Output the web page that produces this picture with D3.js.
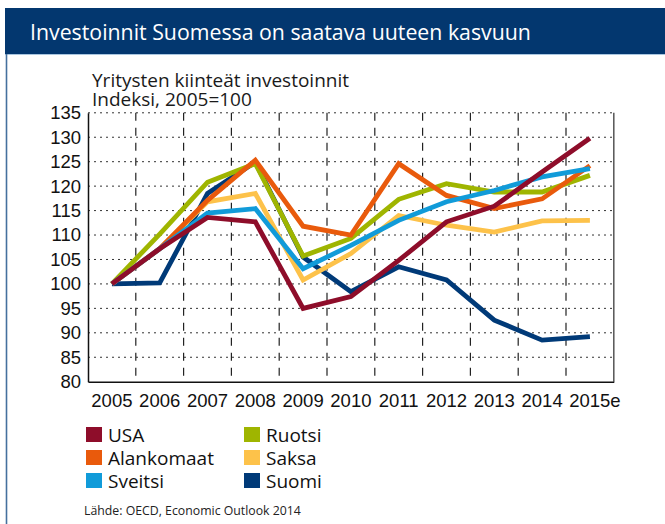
<!DOCTYPE html>
<html>
<head>
<meta charset="utf-8">
<script src="https://cdn.jsdelivr.net/npm/d3@7"></script>
<style>
	body { margin: 0; background: #fff; }
	svg { display: block; font-family: 'Open Sans', sans-serif; }
</style>
</head>
<body>
<svg id="chart" width="665" height="524"></svg>
<script>
const years = ['2005', '2006', '2007', '2008', '2009', '2010', '2011', '2012', '2013', '2014', '2015e']
const yTicks = [80, 85, 90, 95, 100, 105, 110, 115, 120, 125, 130, 135]

const usa = [100, 107.2, 113.6, 112.7, 95, 97.4, 104.8, 112.7, 115.9, 122.9, 129.8]
const alankomaat = [100, 107.2, 117.1, 125.3, 111.8, 110, 124.6, 118.1, 115.4, 117.4, 124.2]
const sveitsi = [100, 107.2, 114.5, 115.4, 103.1, 107.9, 113, 116.8, 119.1, 121.9, 123.6]
const ruotsi = [100, 110.2, 120.8, 124.6, 105.7, 109.3, 117.3, 120.5, 118.8, 118.8, 122.2]
const saksa = [100, 107.2, 116.8, 118.5, 100.8, 106.2, 114, 112, 110.6, 112.9, 113]
const suomi = [100, 100.2, 118.5, 124.9, 105.5, 98.4, 103.5, 100.8, 92.6, 88.5, 89.2]

const series = [
	{ name: 'USA', color: '#8e0d2a', values: usa },
	{ name: 'Alankomaat', color: '#e95a0c', values: alankomaat },
	{ name: 'Sveitsi', color: '#119bd9', values: sveitsi },
	{ name: 'Ruotsi', color: '#9fb500', values: ruotsi },
	{ name: 'Saksa', color: '#fdc24a', values: saksa },
	{ name: 'Suomi', color: '#003a78', values: suomi }
]
// draw order, bottom to top
const drawOrder = ['Suomi', 'Saksa', 'Ruotsi', 'Alankomaat', 'Sveitsi', 'USA']

const svg = d3.select('#chart')

// header bar
svg.append('rect')
	.attr('x', 5).attr('y', 8)
	.attr('width', 660).attr('height', 46)
	.attr('fill', '#03376f')
svg.append('line')
	.attr('x1', 5).attr('x2', 665)
	.attr('y1', 54.5).attr('y2', 54.5)
	.attr('stroke', '#a9c6e0')
svg.append('line')
	.attr('x1', 6.5).attr('x2', 6.5)
	.attr('y1', 54).attr('y2', 524)
	.attr('stroke', '#45709e')
	.attr('stroke-width', 1.6)
svg.append('text')
	.attr('x', 30).attr('y', 39.5)
	.attr('fill', '#fff')
	.style('font-size', '21.3px')
	.text('Investoinnit Suomessa on saatava uuteen kasvuun')

svg.append('text')
	.attr('x', 92).attr('y', 86.5)
	.style('font-size', '19px')
	.attr('fill', '#1a1a1a')
	.text('Yritysten kiinteät investoinnit')
svg.append('text')
	.attr('x', 92).attr('y', 106)
	.style('font-size', '19px')
	.attr('fill', '#1a1a1a')
	.text('Indeksi, 2005=100')

const x = d3.scaleBand().domain(years).range([88, 613.8])
const y = d3.scaleLinear().domain([80, 135]).range([381.7, 112.8])

const g = svg.append('g')

// horizontal dotted grid
g.selectAll('.hgrid').data(yTicks.filter(d => d > 80))
	.enter().append('line')
	.attr('x1', 88).attr('x2', 613.8)
	.attr('y1', d => y(d)).attr('y2', d => y(d))
	.attr('stroke', '#333')
	.attr('stroke-width', 1)
	.attr('stroke-dasharray', '2,4')

// vertical dashed grid
g.selectAll('.vgrid').data(years.slice(1))
	.enter().append('line')
	.attr('x1', d => x(d)).attr('x2', d => x(d))
	.attr('y1', y(135)).attr('y2', y(80))
	.attr('stroke', '#222')
	.attr('stroke-width', 1.2)
	.attr('stroke-dasharray', '8,7')

// right frame
g.append('line')
	.attr('x1', 613.8).attr('x2', 613.8)
	.attr('y1', y(135)).attr('y2', y(80))
	.attr('stroke', '#555').attr('stroke-width', 1.5)

// axes
const yAxis = d3.axisLeft(y).tickValues(yTicks).tickSize(0).tickPadding(7)
const yG = g.append('g').attr('transform', 'translate(88,0)').call(yAxis)
yG.select('.domain').attr('stroke', '#111').attr('stroke-width', 1.5)
yG.selectAll('text').style('font-size', '18.5px').attr('fill', '#111').attr('font-family', null)

const xAxis = d3.axisBottom(x).tickSize(0).tickPadding(9)
const xG = g.append('g').attr('transform', `translate(0,${y(80)})`).call(xAxis)
xG.select('.domain').attr('stroke', '#111').attr('stroke-width', 1.5)
xG.selectAll('text').style('font-size', '18.5px').attr('fill', '#111').attr('font-family', null)
	.attr('dy', '0.9em')
	// the estimate suffix hangs to the right of the centred year
	.attr('dx', d => d.endsWith('e') ? 5 : 0)

// lines
const line = d3.line()
	.x((d, i) => x(years[i]) + x.bandwidth() / 2)
	.y(d => y(d))

g.selectAll('.series').data(drawOrder.map(n => series.find(s => s.name === n)))
	.enter().append('path')
	.attr('class', 'series')
	.attr('d', d => line(d.values))
	.attr('fill', 'none')
	.attr('stroke', d => d.color)
	.attr('stroke-width', 4.8)
	.attr('stroke-linejoin', 'miter')

// legend
const legendOrder = ['USA', 'Ruotsi', 'Alankomaat', 'Saksa', 'Sveitsi', 'Suomi']
const legend = svg.append('g')
const item = legend.selectAll('g').data(legendOrder.map(n => series.find(s => s.name === n)))
	.enter().append('g')
	.attr('transform', (d, i) => `translate(${i % 2 === 0 ? 86 : 244}, ${427 + Math.floor(i / 2) * 23})`)
item.append('rect')
	.attr('width', 16).attr('height', 15)
	.attr('fill', d => d.color)
item.append('text')
	.attr('x', 22).attr('y', 14.5)
	.style('font-size', '19px')
	.attr('fill', '#111')
	.text(d => d.name)

svg.append('text')
	.attr('x', 84).attr('y', 515)
	.style('font-size', '12.3px')
	.attr('fill', '#222')
	.text('Lähde: OECD, Economic Outlook 2014')
</script>
</body>
</html>
